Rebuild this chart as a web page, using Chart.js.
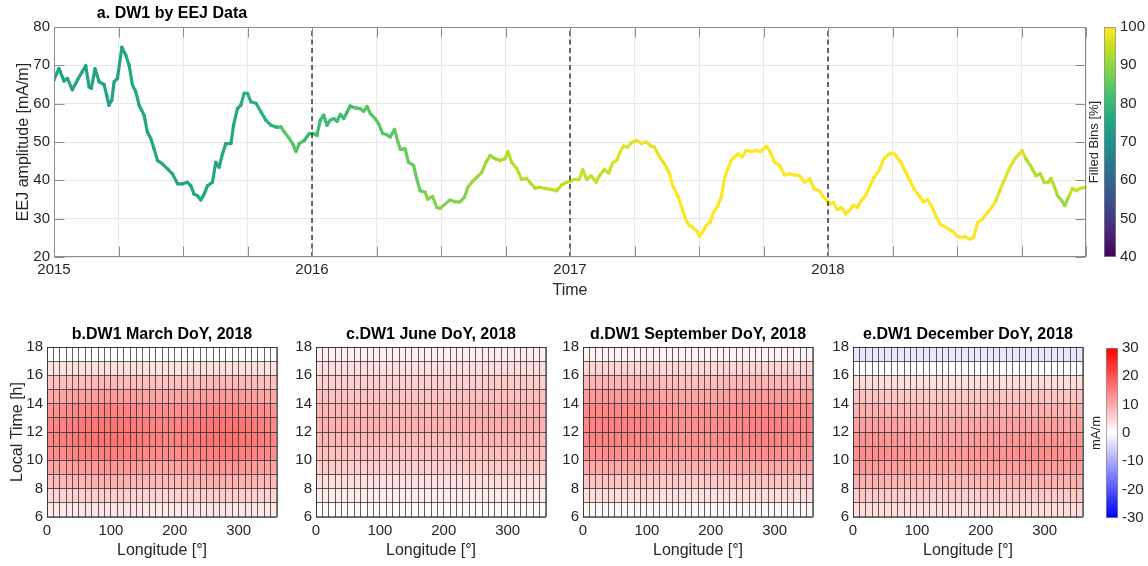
<!DOCTYPE html>
<html>
<head>
<meta charset="utf-8">
<script src="https://cdn.jsdelivr.net/npm/chart.js@4.4.1/dist/chart.umd.min.js"></script>
<style>
  body { margin: 0; background: #fff; }
  #wrap { position: relative; width: 1148px; height: 566px; overflow: hidden; background: #fff; }
  canvas { position: absolute; }
</style>
</head>
<body>
<div id="wrap">
  <canvas id="top" width="1148" height="305" style="left:0;top:0"></canvas>
  <canvas id="cb1" width="68" height="305" style="left:1080px;top:0"></canvas>
  <canvas id="hmB" width="282" height="246" style="left:0;top:320px"></canvas>
  <canvas id="hmC" width="282" height="246" style="left:269px;top:320px"></canvas>
  <canvas id="hmD" width="282" height="246" style="left:536px;top:320px"></canvas>
  <canvas id="hmE" width="282" height="246" style="left:806px;top:320px"></canvas>
  <canvas id="cb2" width="68" height="246" style="left:1080px;top:320px"></canvas>
</div>
<script>
// ---- panel a: DW1 amplitude (decimal years) ----
const t2015 = [2015.000,2015.019,2015.039,2015.052,2015.071,2015.091,2015.110,2015.123,2015.136,2015.145,
  2015.159,2015.175,2015.194,2015.204,2015.213,2015.224,2015.233,2015.246,2015.263,2015.278,
  2015.291,2015.304,2015.317,2015.330,2015.349,2015.362,2015.375,2015.388,2015.401,2015.420,
  2015.440,2015.459,2015.479,2015.498,2015.517,2015.530,2015.543,2015.556,2015.569,2015.582,
  2015.595,2015.614,2015.627,2015.640,2015.653,2015.666,2015.686,2015.696,2015.711,2015.724,
  2015.737,2015.750,2015.763,2015.783,2015.802,2015.821,2015.841,2015.860,2015.880,2015.893,
  2015.912,2015.925,2015.938,2015.951,2015.970,2015.990];
const v2015 = [66.2,69.2,65.9,66.6,63.6,66.2,68.4,69.9,64.4,64.0,
  69.1,65.7,65.0,62.2,59.6,60.9,65.7,66.6,74.7,72.7,
  70.1,64.9,63.1,59.6,57.0,52.6,50.9,48.2,45.2,44.3,
  43.0,41.7,39.1,39.1,39.5,38.6,36.4,36.0,34.9,36.4,
  38.6,39.5,44.7,43.4,46.9,49.6,49.6,54.4,58.7,59.6,
  62.7,62.7,60.5,60.1,57.9,55.7,54.4,53.9,53.9,52.6,
  50.9,49.6,47.5,49.6,50.4,52.2];
const f2015 = [75,75,75,75,75,75,75,75,75,75,
  75,75,75,75,75,75,75,75,76,76,
  76,76,76,76,76,76,76,76,76,76,
  76,76,76,76,76,76,76,76,76,76,
  76,76,76,76,76,76,76,76,76,78,
  78,78,78,78,78,78,78,78,84,84,
  84,84,84,84,80,80];

const t2016 = [2016.006,2016.019,2016.032,2016.045,2016.058,2016.071,2016.084,2016.097,2016.110,2016.123,
  2016.135,2016.148,2016.168,2016.187,2016.200,2016.213,2016.226,2016.245,2016.258,2016.274,
  2016.290,2016.303,2016.320,2016.333,2016.342,2016.361,2016.374,2016.394,2016.406,2016.419,
  2016.439,2016.448,2016.467,2016.484,2016.497,2016.516,2016.535,2016.555,2016.574,2016.591,
  2016.604,2016.619,2016.639,2016.658,2016.674,2016.690,2016.710,2016.729,2016.748,2016.759,
  2016.774,2016.794,2016.813,2016.832,2016.849,2016.865,2016.880,2016.903,2016.923,2016.948,
  2016.968,2016.987];
const v2016 = [52.2,51.7,55.7,57.0,54.4,55.7,56.1,55.4,57.2,56.1,
  57.7,59.4,58.9,58.7,58.0,59.3,57.4,56.1,54.8,52.2,
  51.9,51.3,53.3,50.0,48.1,48.2,44.7,43.9,40.4,37.3,
  36.9,35.1,35.8,32.9,32.7,33.8,34.9,34.4,34.4,35.6,
  38.2,39.5,40.8,42.1,44.7,46.5,45.6,45.2,45.6,47.5,
  44.7,43.0,40.2,40.5,39.1,37.9,38.2,37.9,37.7,37.3,
  38.8,39.5];
const f2016 = [81,81,81,81,81,81,81,81,81,81,
  81,81,84,84,84,84,84,84,84,84,
  84,84,86,86,86,86,86,86,86,86,
  89,89,89,89,89,89,89,89,89,89,
  91,91,91,91,91,91,91,93,93,93,
  93,93,93,93,93,93,93,94,94,94,
  94,94];

const t2017 = [2017.000,2017.017,2017.036,2017.049,2017.065,2017.082,2017.101,2017.114,2017.133,2017.150,
  2017.166,2017.181,2017.194,2017.207,2017.224,2017.237,2017.259,2017.276,2017.295,2017.314,
  2017.327,2017.347,2017.366,2017.386,2017.398,2017.418,2017.431,2017.448,2017.461,2017.476,
  2017.492,2017.502,2017.515,2017.528,2017.543,2017.556,2017.573,2017.586,2017.599,2017.612,
  2017.625,2017.638,2017.651,2017.668,2017.683,2017.702,2017.722,2017.741,2017.761,2017.776,
  2017.793,2017.812,2017.832,2017.851,2017.871,2017.890,2017.909,2017.929,2017.948,2017.965,
  2017.981,2017.998];
const v2017 = [39.7,40.2,40.2,42.8,40.2,41.2,39.5,41.2,42.8,41.9,
  44.6,45.2,47.4,48.9,48.7,49.8,50.4,49.6,50.0,48.9,
  48.7,46.1,44.3,41.7,38.6,36.0,33.4,29.9,28.3,27.7,
  26.8,25.3,26.6,28.3,29.0,31.6,33.4,35.6,40.4,43.0,
  45.2,46.1,46.9,46.1,47.8,47.5,47.8,47.5,48.9,47.4,
  44.7,43.9,41.4,41.7,41.4,41.2,39.5,40.4,37.7,37.3,
  35.8,34.5];
const f2017 = [95,95,95,95,95,95,95,95,95,95,
  97,97,97,97,97,97,98,98,98,98,
  98,98,98,100,100,100,100,100,100,100,
  100,100,100,100,100,100,100,100,100,100,
  100,100,100,100,100,100,100,100,100,100,
  100,100,100,100,100,100,100,100,100,100,
  100,100];

const t2018 = [2018.004,2018.021,2018.036,2018.052,2018.069,2018.082,2018.098,2018.114,2018.129,2018.146,
  2018.163,2018.179,2018.198,2018.217,2018.237,2018.256,2018.282,2018.301,2018.318,2018.334,
  2018.353,2018.370,2018.386,2018.401,2018.418,2018.435,2018.450,2018.466,2018.483,2018.499,
  2018.515,2018.530,2018.551,2018.564,2018.580,2018.599,2018.618,2018.634,2018.651,2018.668,
  2018.683,2018.696,2018.709,2018.724,2018.741,2018.752,2018.767,2018.784,2018.806,2018.823,
  2018.838,2018.854,2018.864,2018.877,2018.890,2018.906,2018.918,2018.935,2018.948,2018.961,
  2018.978,2018.998];
const v2018 = [33.8,34.2,32.3,32.9,31.2,32.1,33.5,32.9,34.7,36.0,
  38.6,40.8,42.6,45.6,46.9,47.0,44.7,42.1,39.9,37.7,
  36.0,34.4,34.9,33.4,30.7,28.6,28.0,27.3,26.8,25.5,
  25.1,25.3,24.6,25.1,29.0,29.9,31.6,32.9,34.7,37.7,
  39.9,42.1,43.9,45.6,46.9,47.8,45.6,43.9,41.2,41.7,
  39.5,39.5,40.5,38.4,36.0,34.7,33.4,36.0,37.9,37.3,
  37.9,38.2];
const f2018 = [100,100,100,100,100,100,100,100,100,100,
  100,100,100,100,100,100,100,100,100,100,
  100,100,100,100,100,100,100,100,100,100,
  100,100,100,100,100,100,100,100,97,97,
  97,97,97,97,97,97,93,93,93,93,
  93,93,93,93,91,91,91,95,95,95,
  95,95];

const yearLines = [2016, 2017, 2018];

// ---- panels b-e: DW1 in local time / longitude, March, June, September, December 2018 ----
const lonCenters = [5,15,25,35,45,55,65,75,85,95,105,115,125,135,145,155,165,175,
  185,195,205,215,225,235,245,255,265,275,285,295,305,315,325,335,345,355];
const ltEdges = [6,7,8,9,10,11,12,13,14,15,16,17,18];

// amplitude per local-time row (mA/m), from 06-07 h up to 17-18 h
const marLT = [2.9, 5.5, 8.8, 11.6, 14.5, 15.6, 15.4, 14.0, 11.2, 7.9, 3.6, 0.0];
const junLT = [0.5, 2.2, 3.9, 6.0, 7.4, 8.4, 9.3, 8.6, 7.4, 5.8, 3.9, 2.0];
const sepLT = [1.0, 3.9, 6.7, 9.8, 12.6, 13.8, 14.0, 13.5, 11.5, 8.4, 4.8, 1.5];
const decLT = [3.9, 6.0, 8.8, 11.2, 12.6, 12.0, 10.7, 8.8, 6.7, 3.9, 0.0, -2.7];

// relative change along longitude, one value per 10 degree column
const marLon = [0.90,0.92,0.94,0.97,0.99,1.01,1.03,1.04,1.05,1.05,1.05,1.04,1.03,1.01,0.99,0.97,0.95,0.94,
  0.93,0.93,0.94,0.96,0.98,1.00,1.02,1.04,1.05,1.06,1.06,1.06,1.05,1.03,1.00,0.97,0.94,0.92];
const junLon = [1.00,1.00,1.00,1.00,1.00,0.99,0.99,0.99,0.98,0.98,0.98,0.97,0.97,0.97,0.97,0.97,0.97,0.97,
  0.97,0.97,0.98,0.98,0.99,1.00,1.01,1.02,1.03,1.04,1.05,1.05,1.05,1.05,1.04,1.03,1.02,1.01];
const sepLon = [1.03,1.04,1.05,1.05,1.05,1.05,1.05,1.04,1.03,1.02,1.00,0.98,0.96,0.95,0.94,0.93,0.93,0.93,
  0.93,0.94,0.95,0.96,0.98,1.00,1.02,1.03,1.04,1.05,1.05,1.05,1.05,1.04,1.03,1.02,1.02,1.03];
const decLon = [1.04,1.05,1.05,1.05,1.04,1.03,1.02,1.00,0.98,0.97,0.96,0.95,0.94,0.94,0.94,0.94,0.94,0.95,
  0.96,0.97,0.98,0.99,1.00,1.01,1.02,1.03,1.04,1.05,1.05,1.05,1.04,1.04,1.03,1.03,1.03,1.04];

const FONT = "'Liberation Sans', Arial, Helvetica, sans-serif";
const TXT = '#262626';
Chart.defaults.font.family = FONT;
Chart.defaults.color = TXT;

// viridis, used for "Filled Bins [%]"
const VIRIDIS = ['#440154','#482475','#414487','#355f8d','#2a788e','#21918c','#22a884','#44bf70','#7ad151','#bddf26','#fde725'];
function hexRgb(h) { return [parseInt(h.slice(1,3),16), parseInt(h.slice(3,5),16), parseInt(h.slice(5,7),16)]; }
function viridis(v) {
  let t = Math.max(0, Math.min(1, (v - 40) / 60));
  const p = t * 10, i = Math.min(9, Math.floor(p)), f = p - i;
  const a = hexRgb(VIRIDIS[i]), b = hexRgb(VIRIDIS[i + 1]);
  const c = a.map((x, k) => Math.round(x + (b[k] - x) * f));
  return `rgb(${c[0]},${c[1]},${c[2]})`;
}
// blue - white - red, -30..30 mA/m
function rwb(v) {
  const t = Math.max(-1, Math.min(1, v / 30));
  if (t >= 0) { const g = Math.round(255 * (1 - t)); return `rgb(255,${g},${g})`; }
  const r = Math.round(255 * (1 + t)); return `rgb(${r},${r},255)`;
}

// box round the axes plus MATLAB style inward ticks
const boxPlugin = {
  id: 'box',
  afterDatasetsDraw(chart, args, opts) {
    const {ctx, chartArea: a, scales} = chart;
    const L = Math.round(a.left) + 0.5, R = Math.round(a.right) - 0.5;
    const T = Math.round(a.top) + 0.5, B = Math.round(a.bottom) - 0.5;
    ctx.save();
    ctx.strokeStyle = opts.color || '#8c8c8c';
    ctx.lineWidth = 1;
    const len = opts.tickLen || 0;
    if (len) {
      ctx.beginPath();
      scales.x.ticks.forEach(t => {
        const px = Math.round(scales.x.getPixelForValue(t.value)) + 0.5;
        ctx.moveTo(px, B); ctx.lineTo(px, B - len);
        ctx.moveTo(px, T); ctx.lineTo(px, T + len);
      });
      scales.y.ticks.forEach(t => {
        const py = Math.round(scales.y.getPixelForValue(t.value)) + 0.5;
        ctx.moveTo(L, py); ctx.lineTo(L + len, py);
        ctx.moveTo(R, py); ctx.lineTo(R - len, py);
      });
      ctx.stroke();
    }
    ctx.strokeRect(L, T, R - L, B - T);
    ctx.restore();
  }
};

const titlePlugin = {
  id: 'panelTitle',
  afterDraw(chart, args, opts) {
    if (!opts.text) return;
    const {ctx, chartArea: a} = chart;
    ctx.save();
    ctx.font = 'bold 16px ' + FONT;
    ctx.fillStyle = '#000';
    ctx.textAlign = 'center';
    ctx.textBaseline = 'middle';
    ctx.fillText(opts.text, opts.x != null ? opts.x : (a.left + a.right) / 2, opts.y);
    ctx.restore();
  }
};

// ---------- panel a ----------
const years = t2015.concat(t2016, t2017, t2018);
const amps = v2015.concat(v2016, v2017, v2018);
const filled = f2015.concat(f2016, f2017, f2018);
const pts = years.map((t, i) => ({x: t, y: amps[i]}));
const ptColors = filled.map(viridis);

const dashSets = yearLines.map(yr => ({
  data: [{x: yr, y: 20}, {x: yr, y: 80}],
  borderColor: '#1a1a1a', borderWidth: 1.3, borderDash: [5, 3.5],
  pointRadius: 0, fill: false
}));

new Chart(document.getElementById('top'), {
  type: 'line',
  data: {
    datasets: dashSets.concat([{
      data: pts,
      borderWidth: 3.2,
      borderColor: ptColors[0],
      segment: { borderColor: c => ptColors[c.p0DataIndex] },
      pointRadius: 1.7,
      pointBorderWidth: 0,
      pointBackgroundColor: ptColors,
      tension: 0,
      borderJoinStyle: 'round',
      borderCapStyle: 'round',
      fill: false
    }])
  },
  options: {
    responsive: false, animation: false, events: [],
    layout: { padding: { left: 0, top: 27, right: 62, bottom: 0 } },
    plugins: {
      legend: { display: false }, tooltip: { enabled: false },
      box: { color: '#8c8c8c', tickLen: 10 },
      panelTitle: { text: 'a. DW1 by EEJ Data', x: 172, y: 14 }
    },
    scales: {
      x: {
        type: 'linear', min: 2015, max: 2019,
        afterFit: s => { s.height = 48; },
        grid: { color: '#e8e8e8', drawTicks: false },
        border: { display: false },
        ticks: {
          stepSize: 0.25, autoSkip: false, maxRotation: 0, padding: 4,
          color: TXT, font: { size: 15 },
          callback: v => (Math.abs(v - Math.round(v)) < 1e-6 && Math.round(v) < 2019) ? String(Math.round(v)) : ''
        },
        title: { display: true, text: 'Time', color: TXT, font: { size: 16 }, padding: { top: 0, bottom: 5 } }
      },
      y: {
        min: 20, max: 80,
        afterFit: s => { s.width = 54; },
        grid: { color: '#e8e8e8', drawTicks: false },
        border: { display: false },
        ticks: { stepSize: 10, padding: 4, color: TXT, font: { size: 15 } },
        title: { display: true, text: 'EEJ amplitude [mA/m]', color: TXT, font: { size: 16 }, padding: { top: 14, bottom: 0 } }
      }
    }
  },
  plugins: [boxPlugin, titlePlugin]
});

// ---------- colour bars ----------
function colorBar(id, lo, hi, label, stops, padTop, padBottom, leftW, rightW, titlePad) {
  new Chart(document.getElementById(id), {
    type: 'bar',
    data: {
      labels: [''],
      datasets: [{
        data: [[lo, hi]],
        yAxisID: 'y',
        barPercentage: 1, categoryPercentage: 1,
        borderColor: '#8c8c8c', borderWidth: 1, borderSkipped: false,
        backgroundColor: c => {
          const area = c.chart.chartArea;
          if (!area) return '#fff';
          const g = c.chart.ctx.createLinearGradient(0, area.bottom, 0, area.top);
          stops.forEach((col, i) => g.addColorStop(i / (stops.length - 1), col));
          return g;
        }
      }]
    },
    options: {
      responsive: false, animation: false, events: [],
      layout: { padding: { left: 0, right: 0, top: padTop, bottom: padBottom } },
      plugins: { legend: { display: false }, tooltip: { enabled: false } },
      scales: {
        x: { display: false },
        yl: {
          position: 'left', min: lo, max: hi,
          afterFit: s => { s.width = leftW; },
          grid: { display: false, drawTicks: false }, border: { display: false },
          ticks: { display: false },
          title: { display: true, text: label, color: TXT, font: { size: 13 }, padding: { top: titlePad, bottom: 0 } }
        },
        y: {
          position: 'right', min: lo, max: hi,
          afterFit: s => { s.width = rightW; },
          grid: { display: false, drawTicks: false }, border: { display: false },
          ticks: { stepSize: 10, padding: 4, color: TXT, font: { size: 15 } }
        }
      }
    }
  });
}
colorBar('cb1', 40, 100, 'Filled Bins [%]', VIRIDIS, 27, 48, 24, 32, 7);
colorBar('cb2', -30, 30, 'mA/m', ['#0000ff', '#ffffff', '#ff0000'], 28, 48, 26, 30, 8.5);

// ---------- heat maps ----------
function heatmap(id, title, ltVals, lonVals, yTitle) {
  const cells = [], colors = [];
  for (let r = 0; r < ltVals.length; r++) {
    for (let c = 0; c < lonCenters.length; c++) {
      cells.push({ x: lonCenters[c], y: [ltEdges[r], ltEdges[r + 1]] });
      colors.push(rwb(ltVals[r] * lonVals[c]));
    }
  }
  const cellGrid = { color: 'rgba(30,30,30,0.7)', lineWidth: 1, z: 1, drawTicks: false, offset: false };
  new Chart(document.getElementById(id), {
    type: 'bar',
    data: {
      datasets: [{
        data: cells, backgroundColor: colors, borderWidth: 0,
        barPercentage: 1, categoryPercentage: 1, grouped: false
      }]
    },
    options: {
      responsive: false, animation: false, events: [],
      layout: { padding: { left: 0, right: 0, top: 27, bottom: 0 } },
      plugins: {
        legend: { display: false }, tooltip: { enabled: false },
        box: { color: '#808080', tickLen: 0 },
        panelTitle: { text: title, y: 15 }
      },
      scales: {
        x: {
          type: 'linear', min: 0, max: 360, offset: false,
          afterFit: s => { s.height = 49; },
          grid: cellGrid, border: { display: false },
          ticks: {
            stepSize: 10, autoSkip: false, maxRotation: 0, padding: 5,
            color: TXT, font: { size: 15 },
            callback: v => (v % 100 === 0 ? String(v) : '')
          },
          title: { display: true, text: 'Longitude [°]', color: TXT, font: { size: 16 }, padding: { top: 0, bottom: 6 } }
        },
        y: {
          min: 6, max: 18,
          afterFit: s => { s.width = 47; },
          grid: cellGrid, border: { display: false },
          ticks: {
            stepSize: 1, autoSkip: false, padding: 4,
            color: TXT, font: { size: 15 },
            callback: v => (v % 2 === 0 ? String(v) : '')
          },
          title: { display: yTitle, text: 'Local Time [h]', color: TXT, font: { size: 16 }, padding: { top: 8, bottom: 0 } }
        }
      }
    },
    plugins: [boxPlugin, titlePlugin]
  });
}
heatmap('hmB', 'b.DW1 March DoY, 2018', marLT, marLon, true);
heatmap('hmC', 'c.DW1 June DoY, 2018', junLT, junLon, false);
heatmap('hmD', 'd.DW1 September DoY, 2018', sepLT, sepLon, false);
heatmap('hmE', 'e.DW1 December DoY, 2018', decLT, decLon, false);
</script>
</body>
</html>
